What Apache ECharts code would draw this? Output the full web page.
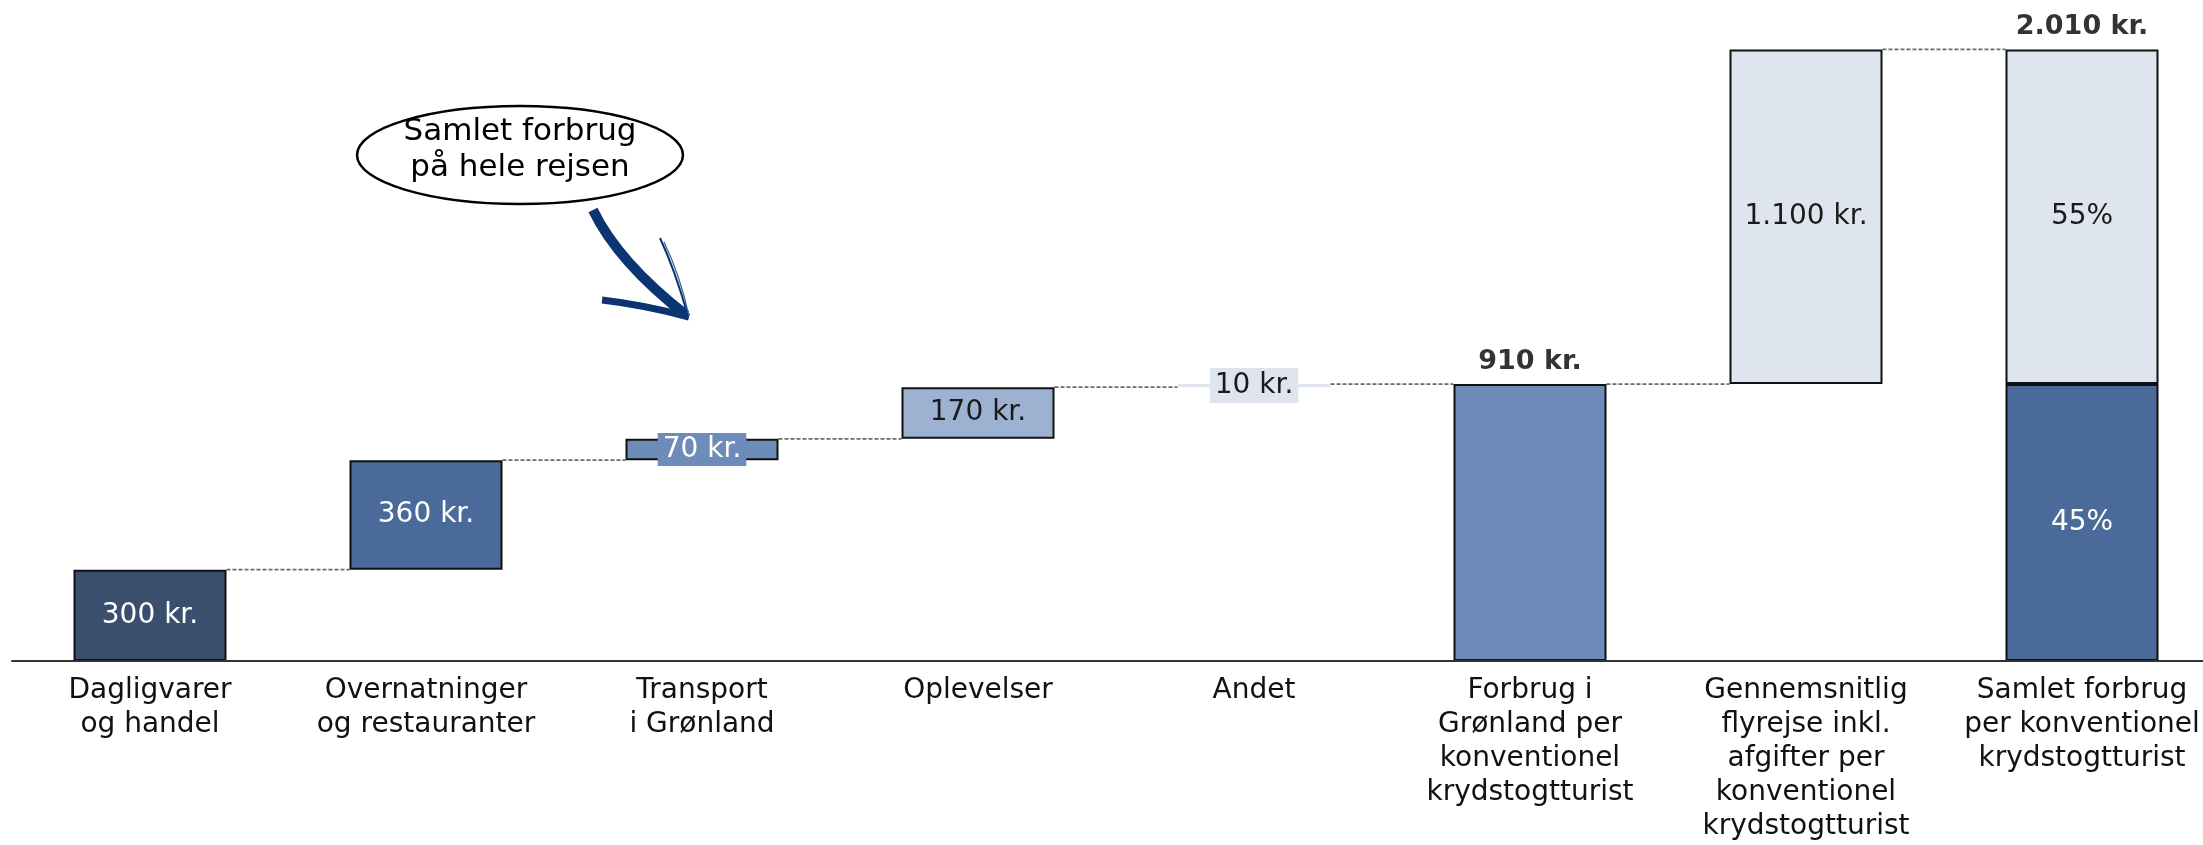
<!DOCTYPE html>
<html>
<head>
<meta charset="utf-8">
<script src="https://cdn.jsdelivr.net/npm/echarts@6/dist/echarts.min.js"></script>
<style>
html,body{margin:0;padding:0;background:#fff;}
#chart{width:2203px;height:845px;}
</style>
</head>
<body>
<div id="chart"></div>
<script>
// ---- data ----
const categories = [
  'Dagligvarer\nog handel',
  'Overnatninger\nog restauranter',
  'Transport\ni Grønland',
  'Oplevelser',
  'Andet',
  'Forbrug i\nGrønland per\nkonventionel\nkrydstogtturist',
  'Gennemsnitlig\nflyrejse inkl.\nafgifter per\nkonventionel\nkrydstogtturist',
  'Samlet forbrug\nper konventionel\nkrydstogtturist'
];
const baseValues = [0, 300, 660, 730, 900, 0, 910, 0];
const barValues  = [300, 360, 70, 170, 10, 910, 1100, 910];
const topValues  = [null, null, null, null, null, null, null, 1100];
const totalPoints = [[5, 910], [7, 2010]];
const connectorLevels = [300, 660, 730, 900, 910, 910, 2010];
const grandTotal = 2010;

function fmt(n) {
  return String(n).replace(/\B(?=(\d{3})+(?!\d))/g, '.');
}

const FONT = 'DejaVu Sans';
const colors = ['#3a4f6e','#4a6a99','#6d8cb9','#9db1d0','#dfe5ef','#6d8cb9','#dfe5ef','#4a6a99'];
const labelColors = ['#fff','#fff','#fff','#1a1a1a','#1a1a1a','#fff','#1a1a1a','#fff'];
const BAR_W = 153;

const mainData = barValues.map((v, i) => {
  const item = {
    value: v,
    itemStyle: { color: colors[i], borderColor: '#111', borderWidth: i === 4 ? 0 : 2 },
    label: { show: i !== 5, color: labelColors[i] }
  };
  if (i === 2) {
    item.label.backgroundColor = '#6d8cb9';
    item.label.padding = [3, 5, 2, 5];
  }
  if (i === 4) {
    item.label.backgroundColor = '#dfe5ef';
    item.label.padding = [4, 5, 3, 5];
  }
  return item;
});

const chart = echarts.init(document.getElementById('chart'));
chart.setOption({
  animation: false,
  backgroundColor: '#fff',
  grid: { left: 12, width: 2208, top: 22, height: 639, outerBoundsMode: 'none', containLabel: false },
  xAxis: {
    type: 'category',
    data: categories,
    axisLine: { show: true, lineStyle: { color: '#333', width: 2 } },
    axisTick: { show: false },
    axisLabel: {
      interval: 0, margin: 13, fontFamily: FONT, fontSize: 28, lineHeight: 34, color: '#111'
    },
    z: 10
  },
  yAxis: { type: 'value', min: 0, max: 2100, show: false, splitLine: { show: false } },
  series: [
    {
      type: 'bar', stack: 'w', barWidth: BAR_W, silent: true,
      itemStyle: { color: 'transparent' },
      data: baseValues
    },
    {
      type: 'bar', stack: 'w', barWidth: BAR_W,
      label: {
        show: true, position: 'inside', fontFamily: FONT, fontSize: 28,
        formatter: p => p.dataIndex === 7 ? Math.round(p.value / grandTotal * 100) + '%' : fmt(p.value) + ' kr.'
      },
      data: mainData
    },
    {
      type: 'bar', stack: 'w', barWidth: BAR_W,
      itemStyle: { color: '#dfe5ef', borderColor: '#111', borderWidth: 2 },
      label: {
        show: true, position: 'inside', fontFamily: FONT, fontSize: 28, color: '#1a1a1a',
        formatter: p => Math.round(p.value / grandTotal * 100) + '%'
      },
      data: topValues
    },
    {
      type: 'custom',
      clip: false,
      silent: true,
      z: 1,
      renderItem: (params, api) => {
        const i = api.value(0);
        const lvl = api.value(1);
        const p = api.coord([i, lvl]);
        const q = api.coord([i + 1, lvl]);
        return {
          type: 'line',
          shape: { x1: p[0] + BAR_W / 2, y1: p[1], x2: q[0] - BAR_W / 2, y2: q[1] },
          style: { stroke: '#6a6a6a', lineWidth: 1.8, lineDash: [4, 2] }
        };
      },
      data: connectorLevels.map((v, i) => [i, v])
    },
    {
      type: 'scatter',
      symbolSize: 1,
      itemStyle: { color: 'transparent' },
      label: {
        show: true, position: 'top', distance: 8, fontFamily: FONT, fontSize: 27,
        fontWeight: 'bold', color: '#000',
        formatter: p => fmt(p.value[1]) + ' kr.'
      },
      data: totalPoints
    }
  ],
  graphic: [
    {
      type: 'ellipse',
      shape: { cx: 520, cy: 155, rx: 163, ry: 49 },
      style: { fill: '#fff', stroke: '#000', lineWidth: 2.5 },
      z: 100
    },
    {
      type: 'text',
      x: 520, y: 150,
      style: {
        text: 'Samlet forbrug\npå hele rejsen',
        fontFamily: FONT, fontSize: 31, lineHeight: 36, fill: '#000',
        align: 'center', verticalAlign: 'middle'
      },
      z: 101
    },
    {
      type: 'bezierCurve',
      shape: { x1: 593, y1: 210, cpx1: 618, cpy1: 262, x2: 686, y2: 315 },
      style: { stroke: '#0b3470', lineWidth: 10, fill: null },
      z: 100
    },
    {
      type: 'bezierCurve',
      shape: { x1: 602, y1: 300, cpx1: 645, cpy1: 305, x2: 689, y2: 317 },
      style: { stroke: '#0b3470', lineWidth: 7, fill: null },
      z: 100
    },
    {
      type: 'bezierCurve',
      shape: { x1: 660, y1: 238, cpx1: 675, cpy1: 270, x2: 688, y2: 316 },
      style: { stroke: '#0b3470', lineWidth: 2, fill: null },
      z: 100
    },
    {
      type: 'bezierCurve',
      shape: { x1: 664, y1: 242, cpx1: 680, cpy1: 275, x2: 689, y2: 316 },
      style: { stroke: '#3a5a90', lineWidth: 1.2, fill: null },
      z: 100
    }
  ]
});
</script>
</body>
</html>
